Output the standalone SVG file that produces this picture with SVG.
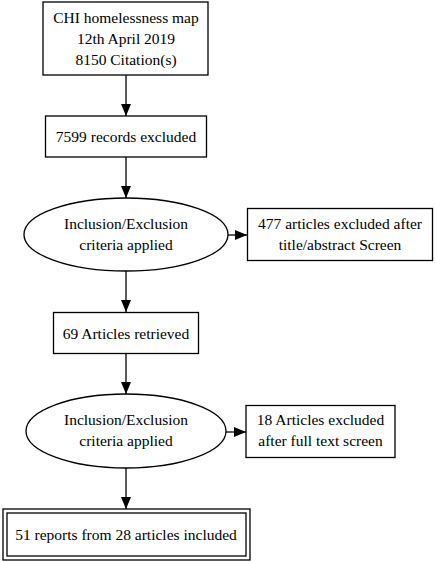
<svg xmlns="http://www.w3.org/2000/svg" width="435" height="561" viewBox="0 0 435 561">
<style>
.n{fill:#fff;stroke:#000;stroke-width:1.3}
.t{font-family:"Liberation Serif","Times New Roman",serif;font-size:15.5px;fill:#000;text-anchor:middle}
.e{stroke:#000;stroke-width:1.3;fill:none;marker-end:url(#a)}
</style>
<defs>
<marker id="a" markerWidth="12" markerHeight="10" refX="12" refY="5" orient="auto" markerUnits="userSpaceOnUse">
<path d="M0,0L12,5L0,10z" fill="#000"/>
</marker>
</defs>
<rect width="435" height="561" fill="#fff"/>
<g id="connectors">
<line class="e" x1="126" y1="75" x2="126" y2="116"/>
<line class="e" x1="126" y1="157" x2="126" y2="198"/>
<line class="e" x1="228" y1="235" x2="247" y2="235"/>
<line class="e" x1="126" y1="271" x2="126" y2="312"/>
<line class="e" x1="126" y1="354" x2="126" y2="394"/>
<line class="e" x1="226" y1="432" x2="246" y2="432"/>
<line class="e" x1="126" y1="468" x2="126" y2="509"/>
</g>
<g id="n1">
<rect class="n" x="43" y="2" width="165" height="73"/>
<text class="t" x="126" y="23">CHI homelessness map</text>
<text class="t" x="126" y="44">12th April 2019</text>
<text class="t" x="126" y="65">8150 Citation(s)</text>
</g>
<g id="n2">
<rect class="n" x="45.5" y="116" width="161" height="41"/>
<text class="t" x="126" y="141.5">7599 records excluded</text>
</g>
<g id="n3">
<ellipse class="n" cx="126" cy="234.5" rx="102" ry="36.5"/>
<text class="t" x="126" y="229">Inclusion/Exclusion</text>
<text class="t" x="126" y="250">criteria applied</text>
</g>
<g id="n4">
<rect class="n" x="247.5" y="208.5" width="185" height="52"/>
<text class="t" x="340" y="229">477 articles excluded after</text>
<text class="t" x="340" y="250">title/abstract Screen</text>
</g>
<g id="n5">
<rect class="n" x="53.5" y="312.5" width="145" height="41"/>
<text class="t" x="126" y="338.5">69 Articles retrieved</text>
</g>
<g id="n6">
<ellipse class="n" cx="126" cy="431" rx="100" ry="37"/>
<text class="t" x="126" y="425">Inclusion/Exclusion</text>
<text class="t" x="126" y="446">criteria applied</text>
</g>
<g id="n7">
<rect class="n" x="246" y="405.5" width="149" height="52"/>
<text class="t" x="320.5" y="425">18 Articles excluded</text>
<text class="t" x="320.5" y="446">after full text screen</text>
</g>
<g id="n8">
<rect class="n" x="3" y="509" width="247" height="51"/>
<rect class="n" x="7" y="513" width="239" height="43"/>
<text class="t" x="126" y="539.5">51 reports from 28 articles included</text>
</g>
</svg>
